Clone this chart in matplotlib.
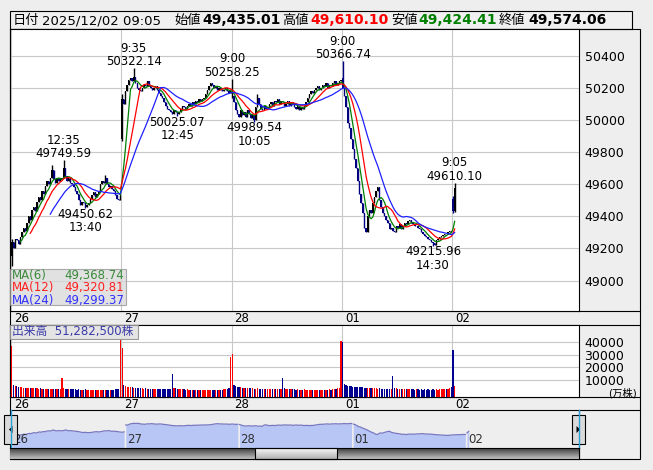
import numpy as np
import pandas as pd
import matplotlib
matplotlib.use("Agg")
import matplotlib.pyplot as plt
from matplotlib.patches import Rectangle, Polygon

plt.rcParams['font.family'] = ['DejaVu Sans', 'Noto Sans CJK JP']

W, H = 653, 470
BARS_PER_DAY = 66

day_labels = ["26", "27", "28", "01", "02"]

# 5-minute closes, one list per session
close_26 = [49240, 49200, 49260, 49250, 49230, 49270,
            49300, 49330, 49310, 49360, 49400, 49380,
            49440, 49460, 49430, 49490, 49520, 49500,
            49560, 49540, 49590, 49620, 49600, 49640,
            49690, 49630, 49610, 49640, 49620, 49630,
            49640, 49700, 49650, 49620, 49640, 49610,
            49600, 49580, 49560, 49540, 49500, 49470,
            49490, 49480, 49460, 49470, 49480, 49510,
            49530, 49550, 49520, 49540, 49560, 49600,
            49620, 49610, 49640, 49600, 49580, 49590,
            49570, 49560, 49530, 49510, 49500, 49530]
close_27 = [50130, 50100, 50180, 50220, 50250, 50260,
            50240, 50270, 50230, 50200, 50190, 50180,
            50200, 50220, 50210, 50240, 50210, 50200,
            50190, 50200, 50210, 50190, 50170, 50150,
            50140, 50110, 50090, 50070, 50060, 50050,
            50040, 50060, 50050, 50040, 50050, 50070,
            50090, 50080, 50070, 50090, 50100, 50090,
            50110, 50100, 50120, 50110, 50130, 50120,
            50130, 50140, 50160, 50190, 50210, 50230,
            50220, 50200, 50210, 50190, 50200, 50190,
            50180, 50190, 50200, 50180, 50170, 50180]
close_28 = [50150, 50110, 50060, 50040, 50020, 50060,
            50030, 50050, 50020, 50060, 50040, 50010,
            50030, 50000, 50080, 50140, 50100, 50070,
            50060, 50090, 50070, 50080, 50100, 50110,
            50090, 50120, 50110, 50130, 50100, 50120,
            50110, 50090, 50100, 50120, 50090, 50110,
            50100, 50080, 50070, 50090, 50060, 50080,
            50070, 50090, 50110, 50140, 50160, 50180,
            50170, 50190, 50200, 50210, 50190, 50200,
            50220, 50210, 50230, 50200, 50220, 50210,
            50230, 50240, 50220, 50230, 50240, 50250]
close_01 = [50200, 50150, 50080, 49980, 49950, 49880,
            49820, 49760, 49700, 49620, 49540, 49480,
            49420, 49330, 49300, 49400, 49440, 49420,
            49480, 49520, 49560, 49580, 49500, 49460,
            49420, 49400, 49380, 49360, 49320, 49330,
            49310, 49300, 49340, 49330, 49350, 49320,
            49340, 49360, 49350, 49370, 49380, 49360,
            49350, 49340, 49340, 49330, 49320, 49300,
            49290, 49280, 49270, 49260, 49250, 49240,
            49235, 49220.16, 49250, 49260, 49270, 49280,
            49285, 49292.28, 49290, 49300, 49310, 49303.37]
close_02 = [49435.01, 49574.06]

# opens of the first bar of each session (other bars open at the previous close)
session_open = [49150, 49880, 50140, 50260, 49510]

# wick extremes (global bar index -> price)
bar_high = {0: 49260, 24: 49720, 31: 49749.59, 56: 49660, 66: 50160, 73: 50322.14,
            132: 50258.25, 147: 50160, 198: 50366.74, 264: 49526, 265: 49610.10}
bar_low = {0: 49090, 44: 49450.62, 66: 49870, 99: 50025.07, 145: 49989.54,
           252: 49215.96, 264: 49419, 265: 49424.41}

# volume, 10k shares
vol_26 = [37000, 5800, 5200, 4900, 4600, 4400, 4200, 4000, 3900, 3800, 3700, 3600,
          3500, 3400, 3500, 3300, 3200, 3300, 3100, 3000, 3100, 2900, 3000, 2800,
          2900, 2700, 2800, 2600, 2700, 2900, 11600, 3600, 3200, 3000, 2900, 2700,
          2600, 2500, 2700, 2400, 2500, 2300, 2400, 2200, 2500, 2300, 2200, 2100,
          2300, 2200, 2100, 2300, 2000, 2200, 2100, 2000, 2200, 2100, 2300, 2200,
          2400, 2300, 2500, 2700, 3200, 41600]
vol_27 = [35000, 6300, 5200, 4800, 4500, 4300, 4100, 3900, 3800, 3600, 3500, 3400,
          3300, 3200, 3400, 3100, 3000, 3200, 2900, 3000, 2800, 2900, 2700, 2800,
          2600, 2700, 2900, 2600, 2800, 3000, 14700, 3800, 3300, 3000, 2800, 2700,
          2600, 2500, 2400, 2600, 2300, 2400, 2200, 2300, 2100, 2400, 2200, 2100,
          2300, 2000, 2200, 2100, 2300, 2000, 2100, 2200, 2000, 2300, 2100, 2400,
          2200, 2500, 2600, 2900, 3400, 28400]
vol_28 = [30300, 6000, 5400, 4700, 4400, 4100, 3900, 3800, 3600, 3700, 3400, 3300,
          3500, 3200, 3100, 3300, 3000, 3100, 2900, 2800, 3000, 2700, 2800, 2600,
          2700, 2500, 2800, 2600, 2700, 2900, 11400, 3500, 3100, 2900, 2800, 2600,
          2500, 2700, 2400, 2500, 2300, 2400, 2200, 2500, 2300, 2400, 2100, 2300,
          2200, 2400, 2100, 2300, 2200, 2000, 2300, 2100, 2400, 2200, 2500, 2300,
          2600, 2800, 3000, 3300, 3900, 41000]
vol_01 = [39500, 6800, 6100, 5500, 5200, 4900, 4700, 4600, 4400, 4300, 4200, 4100,
          4300, 4000, 3800, 3900, 3700, 3600, 3400, 3500, 3300, 3200, 3400, 3100,
          3000, 3200, 2900, 3000, 2800, 3100, 13200, 3900, 3500, 3200, 3000, 2900,
          2800, 2700, 2900, 2600, 2700, 2500, 2600, 2400, 2700, 2500, 2300, 2600,
          2400, 2500, 2300, 2600, 2400, 2200, 2500, 2300, 2600, 2400, 2700, 2500,
          2800, 2600, 2900, 3200, 3600, 4200]
vol_02 = [33700, 5128.25]

# (bar index, label, above/below)
annotations = [(31, "12:35\n49749.59", "high"), (44, "49450.62\n13:40", "low"),
               (73, "9:35\n50322.14", "high"), (99, "50025.07\n12:45", "low"),
               (132, "9:00\n50258.25", "high"), (145, "49989.54\n10:05", "low"),
               (198, "9:00\n50366.74", "high"), (252, "49215.96\n14:30", "low"),
               (265, "9:05\n49610.10", "high")]

header = [("日付", False, "black"), ("2025/12/02 09:05", False, "black"),
          ("始値", False, "black"), ("49,435.01", True, "black"),
          ("高値", False, "black"), ("49,610.10", True, "#ff0000"),
          ("安値", False, "black"), ("49,424.41", True, "#008000"),
          ("終値", False, "black"), ("49,574.06", True, "black")]
header_x = [13, 42, 174, 202, 282, 310, 391, 418, 499, 528]

total_vol_label = "出来高  51,282,500株"

# ---- assemble bars ----
sessions = [close_26, close_27, close_28, close_01, close_02]
close = np.array(sum(sessions, []), dtype=float)
vol = np.array(vol_26 + vol_27 + vol_28 + vol_01 + vol_02, dtype=float)
n = len(close)
x = np.arange(n)
opn = np.empty(n)
opn[1:] = close[:-1]
starts = np.cumsum([0] + [len(s) for s in sessions[:-1]])
for s, o in zip(starts, session_open):
    opn[s] = o
high = np.maximum(opn, close)
low = np.minimum(opn, close)
for i, v in bar_high.items():
    high[i] = v
for i, v in bar_low.items():
    low[i] = v
up = close >= opn

ma_specs = [(6, "#008000", "#3a8a3a"), (12, "#ff0000", "#ff2020"), (24, "#2020ff", "#3030ff")]
mas = {p: pd.Series(close).rolling(p).mean().to_numpy() for p, _, _ in ma_specs}

XL = (-1.1, 339.4)


def rect(x0, y0, x1, y1):
    return [x0 / W, 1 - y1 / H, (x1 - x0) / W, (y1 - y0) / H]


def bar_px(v):
    return 10 + (v - XL[0]) / (XL[1] - XL[0]) * 569


fig = plt.figure(figsize=(W / 100, H / 100), dpi=100)
fig.patch.set_facecolor("#eeeeee")
bg = fig.add_axes([0, 0, 1, 1], zorder=0)
bg.set_xlim(0, W)
bg.set_ylim(H, 0)
bg.axis("off")

# header box
bg.add_patch(Rectangle((10, 11), 622, 18, fc="#f0f0f0", ec="black", lw=0.8))
for (txt, bold, col), hx in zip(header, header_x):
    bg.text(hx, 20.5, txt, fontsize=10 if bold else 9.5, fontweight="bold" if bold else "normal",
            color=col, va="center", ha="left")

# frame lines
bg.add_patch(Rectangle((10, 29), 630, 430, fill=False, ec="black", lw=0.8))
for yy in (311, 325, 397, 410):
    bg.plot([10, 640], [yy, yy], color="black", lw=0.8)
bg.plot([579, 579], [410, 459], color="black", lw=0.8)

# date strips
for d, lab in enumerate(day_labels):
    xp = bar_px(d * BARS_PER_DAY - 0.5) + 3
    bg.text(xp, 318.5, lab, fontsize=8.5, va="center", ha="left")
    bg.text(xp, 404, lab, fontsize=8.5, va="center", ha="left")

# ---- price panel ----
ax = fig.add_axes(rect(10, 29, 579, 311), zorder=2)
ax.set_facecolor("white")
ax.set_xlim(*XL)
ax.set_ylim(48810, 50567)
ax.set_yticks(range(49000, 50401, 200))
ax.yaxis.tick_right()
ax.tick_params(axis="y", length=0, pad=4, labelsize=9)
ax.set_xticks(starts - 0.5)
ax.tick_params(axis="x", length=0, labelbottom=False)
ax.grid(True, color="#c8c8c8", lw=0.8)
ax.set_axisbelow(True)
for sp in ax.spines.values():
    sp.set_linewidth(0.8)

ccol = np.where(up, "black", "#000080")
ax.vlines(x, low, high, colors=ccol, lw=1.0, zorder=3)
ax.bar(x, np.maximum(np.abs(close - opn), 1.5), bottom=np.minimum(opn, close),
       width=0.8, color=ccol, lw=0, zorder=3)
for p, c, _ in ma_specs:
    ax.plot(x, mas[p], color=c, lw=0.9, zorder=4)

for i, txt, side in annotations:
    if side == "high":
        ax.annotate(txt, (i, high[i]), xytext=(0, 0), textcoords="offset points",
                    ha="center", va="bottom", fontsize=8.5, linespacing=1.05, zorder=5)
    else:
        ax.annotate(txt, (i, low[i]), xytext=(0, 0.3), textcoords="offset points",
                    ha="center", va="top", fontsize=8.5, linespacing=1.05, zorder=5)

# MA legend box
bg2 = fig.add_axes([0, 0, 1, 1], zorder=6)
bg2.set_xlim(0, W)
bg2.set_ylim(H, 0)
bg2.axis("off")
bg2.add_patch(Rectangle((10, 269), 116, 36, fc="#d8d8d8", alpha=0.75, ec="#909090", lw=0.8))
for k, (p, _, lc) in enumerate(ma_specs):
    yy = 275.5 + k * 12.5
    bg2.text(12, yy, f"MA({p})", color=lc, fontsize=8.5, va="center", ha="left")
    bg2.text(124, yy, f"{mas[p][-1]:,.2f}", color=lc, fontsize=8.5, va="center", ha="right")

# ---- volume panel ----
av = fig.add_axes(rect(10, 325, 579, 397), zorder=2)
av.set_facecolor("white")
av.set_xlim(*XL)
VL = (-3400, 53200)
av.set_ylim(*VL)
av.set_yticks([10000, 20000, 30000, 40000])
av.yaxis.tick_right()
av.tick_params(axis="y", length=0, pad=4, labelsize=9)
av.set_xticks(starts - 0.5)
av.tick_params(axis="x", length=0, labelbottom=False)
av.grid(True, color="#c8c8c8", lw=0.8)
av.set_axisbelow(True)
for sp in av.spines.values():
    sp.set_linewidth(0.8)
vcol = np.where(up, "#ff0000", "#000090")
av.bar(x, vol - VL[0], bottom=VL[0], width=0.75, color=vcol, lw=0, zorder=3)
bg2.text(637, 393, "(万株)", fontsize=7.5, ha="right", va="center")
bg2.add_patch(Rectangle((10, 325), 128, 14, fc="#e2e2e2", alpha=0.9, ec="#909090", lw=0.8))
bg2.text(12, 332, total_vol_label, color="#3a3aa8", fontsize=8.5, va="center", ha="left")

# ---- navigator ----
an = fig.add_axes(rect(10, 410, 579, 448), zorder=2)
an.set_facecolor("white")
NXL = (-1.2, 329)
an.set_xlim(*NXL)
an.set_ylim(48150, 51400)
an.axis("off")
for s, sess in zip(starts, sessions):
    xs = x[s:s + len(sess)]
    an.fill_between(xs, close[s:s + len(sess)], 48150, color="#b8c6f6", lw=0)
    an.plot(xs, close[s:s + len(sess)], color="#7878c0", lw=0.9)
for s, lab in zip(starts, day_labels):
    an.text(s + 0.5, 48900, lab, fontsize=8.5, color="#303030", va="center", ha="left")
bg2.plot([10.5, 10.5], [410, 448], color="#2aa0d8", lw=1)
bg2.plot([579, 579], [410, 448], color="#2aa0d8", lw=1)

# scrollbar
asb = fig.add_axes(rect(10, 448, 579, 459), zorder=3)
grad = np.linspace(0.25, 0.75, 20).reshape(-1, 1)
asb.imshow(grad, aspect="auto", cmap="gray", extent=(0, 569, 11, 0), vmin=0, vmax=1)
thumb = np.linspace(0.97, 0.7, 20).reshape(-1, 1)
asb.imshow(thumb, aspect="auto", cmap="gray", extent=(245, 327, 11, 0), vmin=0, vmax=1)
asb.set_xlim(0, 569)
asb.set_ylim(11, 0)
asb.axis("off")
bg2.add_patch(Rectangle((255, 448), 82, 11, fill=False, ec="black", lw=0.8))
bg2.plot([10, 579], [448, 448], color="black", lw=0.8)
bg2.plot([10, 579, 579], [459, 459, 448], color="black", lw=0.8)

# scroll buttons
for bx, pts in ((4, [(12.5, 426), (12.5, 433), (9, 429.5)]),
                (572, [(576.5, 426), (576.5, 433), (580, 429.5)])):
    bg2.add_patch(Rectangle((bx, 415), 13, 29, fc="#dadada", ec="black", lw=0.8))
    bg2.add_patch(Polygon(pts, closed=True, fc="black", ec="none"))

fig.savefig("out.png", dpi=100, facecolor=fig.get_facecolor())
